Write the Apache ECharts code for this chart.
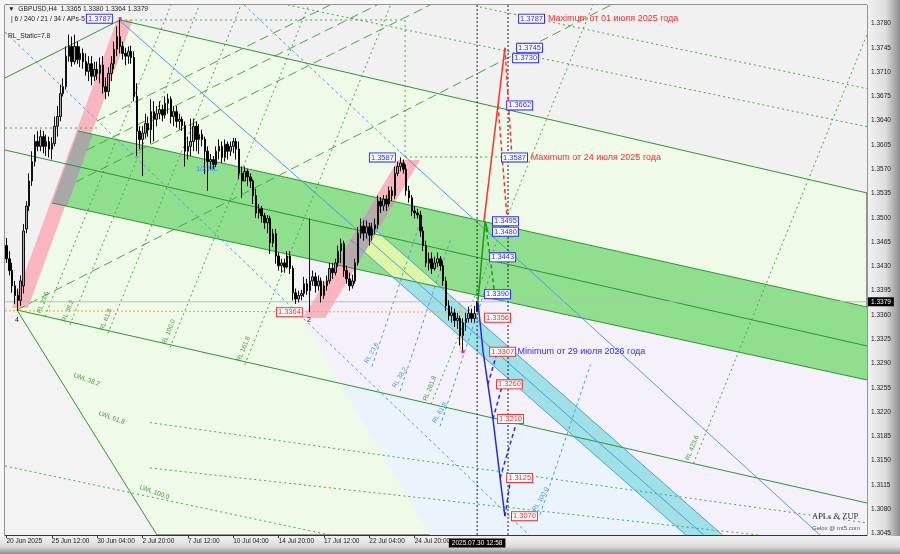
<!DOCTYPE html>
<html><head><meta charset="utf-8">
<script src="https://cdn.jsdelivr.net/npm/echarts@6.0.0/dist/echarts.min.js"></script>
<style>html,body{margin:0;padding:0;background:#fff;}#chart{width:900px;height:554px;}</style>
</head><body><div id="chart"></div>
<script>
const FF = '"Liberation Sans", Arial, sans-serif';
// x = H4 bar index: 0 = 20 Jun 2025 20:00 ... 166 = 30 Jul 2025 12:00
const xTickIdx = [0,16,32,48,64,80,96,112,128,144];
const xTickText = ['20 Jun 2025','25 Jun 12:00','30 Jun 04:00','2 Jul 20:00','7 Jul 12:00','10 Jul 04:00','14 Jul 20:00','17 Jul 12:00','22 Jul 04:00','24 Jul 20:00'];
const yTicks = [1.3780,1.3745,1.3710,1.3675,1.3640,1.3605,1.3570,1.3535,1.3500,1.3465,1.3430,1.3395,1.3360,1.3325,1.3290,1.3255,1.3220,1.3185,1.3150,1.3115,1.3080,1.3045];
const xMin = -0.5, xMax = 303.5, yMin = 1.30429, yMax = 1.38067;
// candles: [open, close, low, high]
const candles = [
[1.3460,1.3441,1.3435,1.3471],[1.3441,1.3424,1.3417,1.3452],[1.3424,1.3402,1.3392,1.3435],[1.3402,1.3388,1.3376,1.3409],
[1.3388,1.3381,1.3366,1.3398],[1.3381,1.3409,1.3373,1.3417],[1.3402,1.3481,1.3391,1.3491],[1.3484,1.3517,1.3478,1.3524],
[1.3517,1.3553,1.3510,1.3564],[1.3553,1.3581,1.3546,1.3596],[1.3581,1.3610,1.3574,1.3620],[1.3610,1.3603,1.3596,1.3625],
[1.3603,1.3617,1.3596,1.3627],[1.3617,1.3603,1.3593,1.3625],[1.3603,1.3610,1.3589,1.3620],[1.3610,1.3599,1.3587,1.3617],
[1.3599,1.3607,1.3584,1.3616],[1.3607,1.3632,1.3603,1.3646],[1.3632,1.3646,1.3617,1.3661],[1.3646,1.3679,1.3639,1.3692],
[1.3679,1.3689,1.3675,1.3701],[1.3689,1.3733,1.3685,1.3747],[1.3733,1.3747,1.3725,1.3764],[1.3747,1.3725,1.3718,1.3761],
[1.3725,1.3747,1.3721,1.3764],[1.3747,1.3728,1.3722,1.3754],[1.3728,1.3737,1.3717,1.3747],[1.3737,1.3725,1.3715,1.3744],
[1.3725,1.3711,1.3705,1.3737],[1.3711,1.3722,1.3697,1.3733],[1.3722,1.3704,1.3691,1.3733],[1.3704,1.3714,1.3697,1.3725],
[1.3714,1.3708,1.3699,1.3725],[1.3708,1.3720,1.3694,1.3731],[1.3720,1.3689,1.3679,1.3733],[1.3689,1.3682,1.3671,1.3702],
[1.3682,1.3708,1.3675,1.3717],[1.3708,1.3722,1.3697,1.3733],[1.3722,1.3743,1.3714,1.3754],[1.3743,1.3761,1.3733,1.3776],
[1.3761,1.3747,1.3737,1.3787],[1.3747,1.3737,1.3728,1.3754],[1.3737,1.3733,1.3720,1.3745],[1.3733,1.3740,1.3722,1.3747],
[1.3740,1.3731,1.3722,1.3748],[1.3731,1.3675,1.3668,1.3740],[1.3675,1.3625,1.3589,1.3694],[1.3625,1.3613,1.3599,1.3632],
[1.3613,1.3622,1.3560,1.3632],[1.3622,1.3636,1.3615,1.3650],[1.3636,1.3627,1.3617,1.3646],[1.3627,1.3653,1.3607,1.3671],
[1.3653,1.3642,1.3610,1.3668],[1.3642,1.3650,1.3632,1.3661],[1.3650,1.3656,1.3642,1.3668],[1.3656,1.3648,1.3639,1.3663],
[1.3648,1.3665,1.3643,1.3675],[1.3665,1.3671,1.3650,1.3679],[1.3671,1.3646,1.3636,1.3675],[1.3646,1.3653,1.3632,1.3661],
[1.3653,1.3639,1.3630,1.3661],[1.3639,1.3642,1.3627,1.3650],[1.3642,1.3633,1.3625,1.3646],[1.3633,1.3596,1.3574,1.3639],
[1.3596,1.3603,1.3584,1.3617],[1.3603,1.3610,1.3589,1.3643],[1.3610,1.3632,1.3596,1.3643],[1.3632,1.3613,1.3596,1.3639],
[1.3613,1.3620,1.3592,1.3635],[1.3620,1.3613,1.3603,1.3627],[1.3613,1.3596,1.3563,1.3617],[1.3596,1.3581,1.3539,1.3603],
[1.3581,1.3584,1.3570,1.3592],[1.3584,1.3577,1.3570,1.3589],[1.3577,1.3596,1.3573,1.3603],[1.3596,1.3603,1.3584,1.3613],
[1.3603,1.3587,1.3579,1.3610],[1.3587,1.3606,1.3581,1.3613],[1.3606,1.3596,1.3584,1.3610],[1.3596,1.3603,1.3589,1.3610],
[1.3603,1.3610,1.3593,1.3615],[1.3610,1.3599,1.3584,1.3615],[1.3599,1.3564,1.3556,1.3610],[1.3564,1.3553,1.3529,1.3574],
[1.3553,1.3567,1.3553,1.3574],[1.3567,1.3559,1.3546,1.3570],[1.3559,1.3553,1.3543,1.3564],[1.3553,1.3532,1.3520,1.3556],
[1.3532,1.3507,1.3500,1.3542],[1.3507,1.3513,1.3499,1.3520],[1.3513,1.3503,1.3493,1.3517],[1.3503,1.3493,1.3484,1.3507],
[1.3493,1.3499,1.3478,1.3504],[1.3499,1.3464,1.3448,1.3503],[1.3464,1.3477,1.3458,1.3484],[1.3477,1.3445,1.3434,1.3484],
[1.3445,1.3431,1.3424,1.3450],[1.3431,1.3435,1.3421,1.3441],[1.3435,1.3429,1.3421,1.3441],[1.3429,1.3445,1.3427,1.3452],
[1.3445,1.3427,1.3419,1.3452],[1.3427,1.3392,1.3381,1.3431],[1.3392,1.3383,1.3376,1.3398],[1.3383,1.3388,1.3378,1.3395],
[1.3388,1.3391,1.3381,1.3396],[1.3391,1.3405,1.3386,1.3415],[1.3405,1.3395,1.3389,1.3412],[1.3395,1.3409,1.3364,1.3499],
[1.3409,1.3415,1.3402,1.3424],[1.3415,1.3402,1.3392,1.3421],[1.3402,1.3409,1.3395,1.3417],[1.3409,1.3388,1.3378,1.3414],
[1.3388,1.3402,1.3383,1.3409],[1.3402,1.3409,1.3395,1.3417],[1.3409,1.3427,1.3405,1.3435],[1.3427,1.3421,1.3412,1.3435],
[1.3421,1.3435,1.3417,1.3441],[1.3435,1.3452,1.3429,1.3460],[1.3452,1.3463,1.3435,1.3470],[1.3463,1.3424,1.3415,1.3467],
[1.3424,1.3412,1.3405,1.3431],[1.3412,1.3402,1.3395,1.3421],[1.3402,1.3409,1.3398,1.3418],[1.3409,1.3435,1.3405,1.3441],
[1.3435,1.3478,1.3431,1.3487],[1.3478,1.3488,1.3470,1.3499],[1.3488,1.3478,1.3467,1.3496],[1.3478,1.3487,1.3470,1.3496],
[1.3487,1.3475,1.3460,1.3493],[1.3475,1.3484,1.3467,1.3493],[1.3484,1.3490,1.3477,1.3499],[1.3490,1.3524,1.3484,1.3532],
[1.3524,1.3517,1.3507,1.3530],[1.3517,1.3527,1.3510,1.3533],[1.3527,1.3520,1.3510,1.3533],[1.3520,1.3539,1.3516,1.3545],
[1.3539,1.3532,1.3524,1.3545],[1.3532,1.3564,1.3527,1.3574],[1.3564,1.3574,1.3560,1.3581],[1.3574,1.3579,1.3567,1.3587],
[1.3579,1.3570,1.3564,1.3584],[1.3570,1.3539,1.3532,1.3577],[1.3539,1.3529,1.3522,1.3546],[1.3529,1.3510,1.3503,1.3533],
[1.3510,1.3507,1.3499,1.3517],[1.3507,1.3504,1.3499,1.3513],[1.3504,1.3481,1.3473,1.3510],[1.3481,1.3460,1.3452,1.3487],
[1.3460,1.3435,1.3429,1.3467],[1.3435,1.3441,1.3424,1.3450],[1.3441,1.3427,1.3419,1.3450],[1.3427,1.3435,1.3424,1.3444],
[1.3435,1.3441,1.3429,1.3450],[1.3441,1.3431,1.3424,1.3445],[1.3431,1.3409,1.3402,1.3438],[1.3409,1.3373,1.3366,1.3415],
[1.3373,1.3359,1.3352,1.3381],[1.3359,1.3363,1.3349,1.3372],[1.3363,1.3352,1.3343,1.3369],[1.3352,1.3355,1.3340,1.3363],
[1.3355,1.3330,1.3316,1.3359],[1.3330,1.3349,1.3307,1.3355],[1.3349,1.3355,1.3337,1.3363],[1.3355,1.3362,1.3349,1.3372],
[1.3362,1.3355,1.3349,1.3369],[1.3355,1.3362,1.3349,1.3373],[1.3365,1.3379,1.3364,1.3380]
];
// filled zones: polygons of [barIndex, price]
const zoneTopGray = [[-0.5,1.38067],[303.5,1.38067],[303.5,1.35358],[40.1,1.37851],[39.0,1.37851],[1.97,1.33700],[-0.5,1.33700]];
const zoneBottomGray = [[-0.5,1.33700],[3.7,1.33672],[53.1,1.30429],[-0.5,1.30429]];
const zoneLavender = [[103.5,1.34435],[303.5,1.32663],[303.5,1.30429],[239.6,1.30429],[200.1,1.31850],[117.6,1.32615],[103.5,1.33643]];
const zoneLightBlue = [[117.6,1.32615],[200.1,1.31850],[239.6,1.30429],[149.4,1.30429]];
const zoneGreenBand = [[25.25,1.36251],[303.5,1.33715],[303.5,1.32663],[16.1,1.35214]];
const zonePink1 = [[1.97,1.33700],[7.6,1.33700],[44.6,1.37851],[39.0,1.37851]];
const zoneGray1 = [[25.25,1.36251],[30.5,1.36208],[21.4,1.35170],[16.1,1.35214]];
const zoneCyan = [[125.7,1.34987],[252.5,1.30429],[239.6,1.30429],[121.25,1.34686]];
const zoneYellow = [[125.7,1.34987],[153.3,1.33996],[136.2,1.34147],[121.25,1.34686]];
const zonePink2 = [[104.6,1.33556],[112.4,1.33556],[145.9,1.35833],[138.1,1.35833]];
const zoneGray2 = [[130.3,1.35294],[137.0,1.35227],[122.9,1.34268],[115.9,1.34327]];
// lines: [i1, p1, i2, p2]
const greenSolid = [
[40.1,1.37851,303.5,1.35358],[25.25,1.36251,303.5,1.33715],[-0.5,1.35977,303.5,1.33153],
[16.1,1.35214,303.5,1.32663],[3.7,1.33672,303.5,1.30890],[-0.5,1.37015,40.1,1.37851],[3.7,1.33672,53.1,1.30429]];
const blueSolid = [[40.1,1.37836,245.9,1.30429],[125.7,1.34987,252.5,1.30429],[121.25,1.34686,239.6,1.30429],[138.8,1.35949,286.9,1.30429]];
const blueDash = [[-0.5,1.37678,184.3,1.30429],[83.8,1.38067,138.8,1.35949],
[128.9,1.32856,146.9,1.35056],[138.8,1.32501,156.7,1.34696],[152.9,1.31994,170.6,1.34181],[188.2,1.30726,206.0,1.32886]];
const greenDot = [
[40.1,1.37851,140.6,1.37851],[140.6,1.37851,140.6,1.35877],[140.6,1.35877,177.6,1.35877],[-0.5,1.36294,33.0,1.36294],
[99.2,1.38067,303.5,1.36313],[167.0,1.38038,303.5,1.36861],[50.6,1.32049,303.5,1.30602],[50.6,1.31395,265.1,1.30429],[-0.5,1.31424,114.1,1.30429],
[13.6,1.33579,58.0,1.38067],[22.4,1.33458,68.1,1.38067],[35.8,1.33334,82.7,1.38067],[57.7,1.33131,106.6,1.38067],
[84.1,1.32886,135.5,1.38067],[149.8,1.32317,206.8,1.38067],[242.3,1.31460,303.5,1.37642]];
const greenLongDash = [[3.7,1.33672,213.2,1.38067],[31.95,1.36395,114.1,1.38067],[28.4,1.35977,130.7,1.38067],[24.4,1.35516,149.4,1.38067]];
const blackDot = [[166.0,1.30429,166.0,1.38067],[176.9,1.30429,176.9,1.38067]];
const priceLine = [[-0.5,1.3379,303.5,1.3379]];
const orangeDot = [[-0.5,1.3366,167.0,1.3364],[160.0,1.3378,160.0,1.3307]];
// projections
const projGreenSolid = [[166.3,1.3379],[168.8,1.3495],[169.8,1.3480]];
const projGreenDash = [[168.8,1.3495,170.6,1.3443],[170.6,1.3443,172.0,1.3396]];
const projRedSolid = [[168.4,1.3495],[175.8,1.3745]];
const projRedDash = [[175.8,1.3745,178.3,1.3587],[173.4,1.3662,176.6,1.3497]];
const projBlueSolid = [[166.3,1.3379],[168.1,1.3307],[169.8,1.3260],[171.6,1.3210],[174.1,1.3125],[175.8,1.3070]];
const projBlueDash = [[169.8,1.3260,173.0,1.3305],[171.6,1.3210,175.1,1.3262],[174.1,1.3125,180.1,1.3208],[175.8,1.3070,177.6,1.3118]];
// price boxes: [barIndex(left edge), level, colour key]
const boxes = [
[180.8,1.3787,'b'],[180.1,1.3745,'b'],[178.7,1.3730,'b'],[176.6,1.3662,'b'],[174.8,1.3587,'b'],
[171.6,1.3495,'b'],[171.6,1.3480,'b'],[170.6,1.3443,'b'],[168.8,1.3390,'b'],
[168.8,1.3356,'r'],[170.6,1.3307,'r'],[173.0,1.3260,'r'],[173.4,1.3210,'r'],[176.6,1.3125,'r'],[178.3,1.3070,'r'],
[28.4,1.3787,'b'],[128.2,1.3587,'b'],[95.4,1.3364,'r']];
const notes = [
[191.0,1.3787,'Maximum от 01 июля 2025 года','r'],
[184.9,1.3587,'Maximum от 24 июля 2025 года','r'],
[180.2,1.3307,'Minimum от 29 июля 2026 года','b']];
const rlGreen = [[13.6,1.33579,'RL 23.6'],[22.4,1.33458,'RL 38.2'],[35.8,1.33334,'RL 61.8'],[57.7,1.33131,'RL 100.0'],[84.1,1.32886,'RL 161.8'],[149.8,1.32317,'RL 261.8'],[242.3,1.31460,'RL 423.6']];
const rlBlue = [[128.9,1.32856,'RL 23.6'],[138.8,1.32501,'RL 38.2'],[152.9,1.31994,'RL 61.8'],[188.2,1.30726,'RL 100.0']];
const lwl = [[23.8,1.32735,'LWL 38.2'],[32.6,1.32187,'LWL 61.8'],[47.1,1.31121,'LWL 100.0']];
const misc = [[70.7,1.35704,'1/2 ML','#3b8fe0'],[3.7,1.33528,'4','#111'],[106.7,1.33528,'2','#111']];
const markers = [[40.1,1.3787],[161,1.3307]];
const lastPrice = 1.3379, lastBar = 166, lastTime = '2025.07.30 12:58';

const COL = {b:'#2b2bff', r:'#ff2a2a'};
function poly(pts, fill){
  return {type:'custom', silent:true, clip:true, data:pts, encode:{x:0,y:1},
    renderItem:(p,api)=> p.dataIndex!==0?null:{type:'polygon', shape:{points:pts.map(q=>api.coord(q))}, style:{fill:fill}}};
}
function segs(rows, color, width, dash){
  return {type:'custom', silent:true, clip:true, data:rows, encode:{x:[0,2],y:[1,3]},
    renderItem:(p,api)=>{const a=api.coord([api.value(0),api.value(1)]), b=api.coord([api.value(2),api.value(3)]);
      return {type:'line', shape:{x1:a[0],y1:a[1],x2:b[0],y2:b[1]}, style:{stroke:color,lineWidth:width,lineDash:dash||null}};}};
}
function texts(rows, mk, clip){
  return {type:'custom', silent:true, clip:!!clip, data:rows.map(r=>[r[0],r[1]]), encode:{x:0,y:1}, z:8,
    renderItem:(p,api)=>{const c=api.coord([api.value(0),api.value(1)]); return mk(rows[p.dataIndex], c);}};
}
const series = [
  poly(zoneTopGray,'#f1f1f1'), poly(zoneBottomGray,'#f3f3f3'), poly(zoneLavender,'#f5f1fb'), poly(zoneLightBlue,'#ebf4fc'),
  poly(zoneGreenBand,'#8fdf8f'), poly(zonePink1,'#f9b6c1'), poly(zoneGray1,'#a8a8a8'),
  poly(zoneCyan,'#9fe1e6'), poly(zoneYellow,'#def7a4'), poly(zonePink2,'#f9b6c1'), poly(zoneGray2,'#b5abab'),
  segs(greenDot,'#44a844',1,[2,3]), segs(greenLongDash,'#44a844',1,[9,5]),
  segs(blueDash,'#4a9be6',1,[3,3]), segs(greenSolid,'#2f962f',1), segs(blueSolid,'#4a9be6',1),
  segs(priceLine,'#bdbdbd',1), segs(orangeDot,'#ffa020',1,[2,2]), segs(blackDot,'#222',1,[2,2]),
  {type:'candlestick', data:candles.map((c,i)=>[i,c[0],c[1],c[2],c[3]]), encode:{x:0,y:[1,2,3,4]}, barWidth:2, silent:true, z:5,
    itemStyle:{color:'#a9a9a9', color0:'#000', borderColor:'#111', borderColor0:'#000', borderWidth:1}},
  {type:'line', data:projGreenSolid, symbol:'none', silent:true, z:6, lineStyle:{color:'#1a9a1a',width:1.5}},
  {type:'line', data:projRedSolid, symbol:'none', silent:true, z:6, lineStyle:{color:'#ff3030',width:1.5}},
  {type:'line', data:projBlueSolid, symbol:'none', silent:true, z:6, lineStyle:{color:'#2a2ad8',width:1.5}},
  Object.assign(segs(projGreenDash,'#1a9a1a',1.5,[4,3]),{z:6}),
  Object.assign(segs(projRedDash,'#ff3030',1.5,[4,3]),{z:6}),
  Object.assign(segs(projBlueDash,'#2a2ad8',1.5,[4,3]),{z:6}),
  texts(markers,(r,c)=>({type:'rect', shape:{x:c[0]-1.5,y:c[1]-1.5,width:3,height:3}, style:{fill:'#e020e0'}}), true),
  texts(boxes,(r,c)=>({type:'text', x:c[0], y:c[1], style:{text:r[1].toFixed(4), fill:COL[r[2]], font:'7.5px '+FF, align:'left', verticalAlign:'middle',
      backgroundColor:'#fff', borderColor:COL[r[2]], borderWidth:1, padding:[0,1,0,1]}}), true),
  texts(notes,(r,c)=>({type:'text', x:c[0], y:c[1], style:{text:r[2], fill:COL[r[3]], font:'9px '+FF, align:'left', verticalAlign:'middle'}}), true),
  texts(rlGreen,(r,c)=>({type:'text', x:c[0]-3, y:c[1]-2, rotation:1.187, style:{text:r[2], fill:'#3c9c3c', font:'6.5px '+FF, align:'left', verticalAlign:'bottom'}}), true),
  texts(rlBlue,(r,c)=>({type:'text', x:c[0]-3, y:c[1]-2, rotation:1.044, style:{text:r[2], fill:'#4a9be6', font:'6.5px '+FF, align:'left', verticalAlign:'bottom'}}), true),
  texts(lwl,(r,c)=>({type:'text', x:c[0], y:c[1], rotation:-0.35, style:{text:r[2], fill:'#3c9c3c', font:'6.5px '+FF, align:'left', verticalAlign:'middle'}}), true),
  texts(misc,(r,c)=>({type:'text', x:c[0], y:c[1], style:{text:r[2], fill:r[3], font:'7px '+FF, align:'center', verticalAlign:'middle'}}), true),
  texts([[xMax,lastPrice]],(r,c)=>({type:'text', x:c[0]+1, y:c[1], style:{text:lastPrice.toFixed(4), fill:'#fff', font:'6.5px '+FF, align:'left', verticalAlign:'middle', backgroundColor:'#000', padding:[1,3,1,3]}}), false),
  texts([[lastBar,yMin]],(r,c)=>({type:'text', x:c[0], y:c[1]+8, style:{text:lastTime, fill:'#fff', font:'6.5px '+FF, align:'center', verticalAlign:'middle', backgroundColor:'#000', padding:[1,3,1,3]}}), false)
];
const chart = echarts.init(document.getElementById('chart'), null, {renderer:'canvas'});
chart.setOption({
  animation:false, backgroundColor:'#f6f6f6',
  grid:{left:5, top:5, right:33, bottom:19, show:true, backgroundColor:'#effbe8', borderColor:'#333', borderWidth:1},
  xAxis:{type:'value', min:xMin, max:xMax, splitLine:{show:false},
    axisLine:{lineStyle:{color:'#333'}},
    axisTick:{customValues:xTickIdx, length:3, lineStyle:{color:'#333'}},
    axisLabel:{customValues:xTickIdx, formatter:v=>{const k=xTickIdx.indexOf(Math.round(v)); return k<0?'':xTickText[k];}, align:'left', margin:3, fontSize:6.5, fontFamily:FF, color:'#222'}},
  yAxis:{type:'value', position:'right', min:yMin, max:yMax, scale:true, splitLine:{show:false},
    axisLine:{show:true, lineStyle:{color:'#333'}},
    axisTick:{show:true, customValues:yTicks, length:3, lineStyle:{color:'#333'}},
    axisLabel:{customValues:yTicks, formatter:v=>v.toFixed(4), margin:4, fontSize:6.5, fontFamily:FF, color:'#222'}},
  graphic:[
    {type:'rect', z:-10, shape:{x:868,y:0,width:32,height:554}, style:{fill:new echarts.graphic.LinearGradient(0,0,1,0,[{offset:0,color:'#f2f2f2'},{offset:0.55,color:'#dedede'},{offset:1,color:'#8c8c8c'}])}},
    {type:'rect', z:-10, shape:{x:0,y:536,width:900,height:18}, style:{fill:new echarts.graphic.LinearGradient(0,0,0,1,[{offset:0,color:'#f2f2f2'},{offset:0.6,color:'#dcdcdc'},{offset:1,color:'#8c8c8c'}])}},
    {type:'text', z:10, x:8, y:6, style:{text:'▼  GBPUSD,H4  1.3365 1.3380 1.3364 1.3379', font:'6.7px '+FF, fill:'#222'}},
    {type:'text', z:10, x:11, y:16, style:{text:'| 6 / 240 / 21 / 34 / APs-5', font:'6.7px '+FF, fill:'#222'}},
    {type:'text', z:10, x:8, y:33, style:{text:'RL_Static=7.8', font:'6.7px '+FF, fill:'#222'}},
    {type:'text', z:10, x:812, y:512, style:{text:'APLs & ZUP', font:'8.5px "Liberation Serif", serif', fill:'#333'}},
    {type:'text', z:10, x:812, y:525, style:{text:'Gelox @ mt5.com', font:'6px '+FF, fill:'#555'}}
  ],
  series: series
});
</script></body></html>
